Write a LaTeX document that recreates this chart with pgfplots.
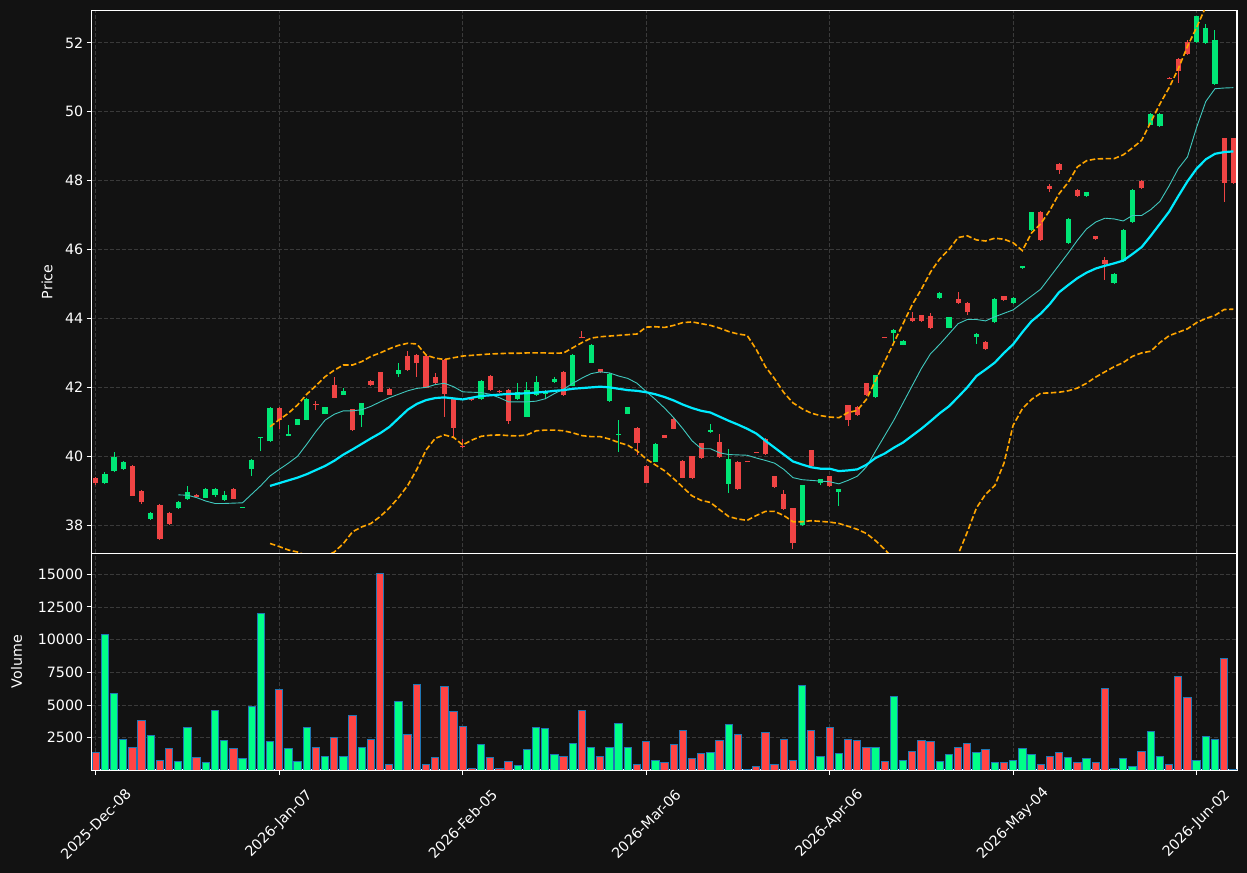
\documentclass[border=0pt]{standalone}
\usepackage{pgfplots}
\pgfplotsset{compat=1.18}
\usepackage{pgfplotstable}
\usepackage{fontspec}
\setmainfont{DejaVu Sans}
\definecolor{bg}{RGB}{18,18,18}
\definecolor{gridc}{RGB}{58,58,58}
\definecolor{cgreen}{RGB}{0,230,118}
\definecolor{cred}{RGB}{239,68,68}
\definecolor{vgreen}{RGB}{0,255,136}
\definecolor{vred}{RGB}{255,68,68}
\definecolor{vedge}{RGB}{31,119,180}
\definecolor{maten}{RGB}{64,200,190}
\definecolor{matwenty}{RGB}{0,235,255}
\definecolor{bband}{RGB}{255,165,0}

% green candles: index open high low close
\pgfplotstableread{
i o h l c
1 39.21 39.53 39.19 39.48
2 39.57 40.12 39.53 39.98
3 39.63 39.85 39.61 39.83
6 38.18 38.37 38.16 38.35
9 38.50 38.69 38.48 38.67
10 38.76 39.14 38.74 38.95
12 38.80 39.07 38.78 39.05
13 38.88 39.07 38.83 39.05
14 38.73 38.99 38.71 38.88
16 38.51 38.54 38.50 38.53
17 39.63 39.91 39.44 39.89
18 40.52 40.57 40.14 40.55
19 40.43 41.42 40.41 41.40
21 40.60 40.90 40.58 40.65
22 40.92 41.09 40.90 41.07
23 41.06 41.68 41.04 41.66
25 41.24 41.44 41.22 41.42
27 41.79 41.97 41.77 41.89
29 41.21 41.56 40.86 41.54
33 42.40 42.72 42.31 42.50
42 41.66 42.20 41.64 42.18
46 41.66 42.12 41.64 41.86
47 41.15 42.15 41.13 41.92
48 41.78 42.33 41.76 42.15
49 41.81 41.92 41.65 41.90
50 42.16 42.31 42.14 42.24
52 42.05 42.96 42.03 42.94
54 42.72 43.25 42.70 43.23
56 41.61 42.41 41.59 42.39
57 40.63 41.05 40.13 40.66
58 41.24 41.44 41.22 41.42
61 39.84 40.39 39.82 40.37
67 40.71 40.95 40.69 40.77
69 39.20 40.22 38.94 39.93
77 38.00 39.18 37.98 39.16
79 39.21 39.35 39.16 39.33
81 38.95 39.06 38.57 39.04
85 41.72 42.37 41.70 42.35
87 43.58 43.70 43.22 43.68
88 43.24 43.38 43.22 43.36
92 44.59 44.76 44.57 44.74
93 43.73 44.05 43.71 44.03
96 43.46 43.58 43.27 43.56
98 43.89 44.59 43.87 44.57
100 44.44 44.62 44.42 44.60
101 45.46 45.53 45.44 45.51
102 46.57 47.10 46.55 47.08
106 46.19 46.91 46.17 46.89
108 47.55 47.68 47.53 47.66
111 45.03 45.32 45.01 45.30
112 45.66 46.60 45.64 46.58
113 46.80 47.76 46.78 47.74
115 49.63 49.97 49.61 49.95
116 49.58 49.97 49.56 49.95
120 52.02 52.79 52.00 52.77
121 52.00 52.56 51.98 52.44
122 50.80 52.36 50.78 52.09
}\cgr

% red candles: index open high low close
\pgfplotstableread{
i o h l c
0 39.37 39.40 39.18 39.21
4 39.72 39.74 38.84 38.86
5 38.99 39.01 38.61 38.68
7 38.59 38.61 37.58 37.60
8 38.35 38.37 38.01 38.03
11 38.88 38.90 38.79 38.81
15 39.05 39.07 38.75 38.77
20 41.40 41.42 40.78 41.04
24 41.53 41.61 41.33 41.49
26 42.07 42.29 41.68 41.70
28 41.36 41.38 40.73 40.75
30 42.18 42.22 42.04 42.07
31 42.44 42.46 41.86 41.88
32 41.95 41.97 41.77 41.79
34 42.91 43.06 42.48 42.50
35 42.94 42.96 42.31 42.70
36 42.91 42.93 41.97 41.99
37 42.30 42.41 42.11 42.13
38 42.79 42.81 41.15 41.81
39 41.66 41.68 40.52 40.83
40 40.30 40.49 40.23 40.26
41 41.71 41.73 41.61 41.63
43 42.33 42.35 41.90 41.92
44 41.89 41.91 41.84 41.86
45 41.92 41.94 40.93 41.02
51 42.45 42.47 41.76 41.78
53 43.47 43.64 43.43 43.45
55 42.52 42.54 42.43 42.45
59 40.82 40.84 40.05 40.39
60 39.72 39.74 39.21 39.23
62 40.61 40.63 40.52 40.54
63 41.08 41.10 40.78 40.80
64 39.86 39.88 39.36 39.38
65 40.00 40.02 39.35 39.37
66 40.38 40.40 39.93 39.95
68 40.41 40.64 39.96 39.98
70 39.83 39.85 39.03 39.05
71 39.86 39.87 39.83 39.84
72 40.12 40.13 40.09 40.10
73 40.51 40.53 40.05 40.07
74 39.42 39.44 39.09 39.11
75 38.90 39.01 38.45 38.47
76 38.49 38.51 37.32 37.49
78 40.17 40.19 39.69 39.71
80 39.42 39.44 39.11 39.13
82 41.48 41.50 40.87 41.04
83 41.43 41.45 41.18 41.20
84 42.12 42.14 41.76 41.78
86 43.45 43.46 43.42 43.43
89 44.00 44.18 43.90 43.92
90 44.09 44.11 43.90 43.92
91 44.06 44.17 43.70 43.72
94 44.58 44.78 44.43 44.45
95 44.45 44.47 44.11 44.18
97 43.32 43.34 43.09 43.11
99 44.64 44.66 44.51 44.53
103 47.10 47.12 46.25 46.27
104 47.86 47.91 47.66 47.77
105 48.49 48.51 48.20 48.30
107 47.74 47.76 47.53 47.55
109 46.38 46.40 46.28 46.30
110 45.71 45.78 45.12 45.59
114 48.00 48.02 47.75 47.79
117 50.99 51.00 50.97 50.98
118 51.54 51.56 50.83 51.17
119 52.04 52.08 51.66 51.68
123 49.23 49.25 47.38 47.93
124 49.23 49.25 47.91 47.93
}\crd

% 10-day moving average
\pgfplotstableread{
i v
9 38.88
10 38.87
11 38.80
12 38.70
13 38.63
14 38.63
15 38.64
16 38.65
17 38.90
18 39.15
19 39.43
20 39.62
21 39.80
22 40.00
23 40.35
24 40.72
25 41.05
26 41.22
27 41.32
28 41.32
29 41.35
30 41.45
31 41.58
32 41.70
33 41.80
34 41.90
35 41.97
36 42.00
37 42.08
38 42.12
39 42.02
40 41.87
41 41.86
42 41.85
43 41.80
44 41.70
45 41.58
46 41.58
47 41.58
48 41.60
49 41.67
50 41.82
51 41.95
52 42.12
53 42.27
54 42.40
55 42.45
56 42.42
57 42.33
58 42.26
59 42.12
60 41.88
61 41.65
62 41.40
63 41.12
64 40.80
65 40.45
66 40.22
67 40.22
68 40.10
69 40.05
70 40.04
71 40.03
72 39.95
73 39.88
74 39.80
75 39.62
76 39.38
77 39.32
78 39.30
79 39.28
80 39.26
81 39.20
82 39.30
83 39.42
84 39.69
85 40.15
86 40.60
87 41.05
88 41.55
89 42.05
90 42.55
91 42.98
92 43.25
93 43.55
94 43.85
95 43.97
96 43.97
97 43.93
98 44.05
99 44.15
100 44.25
101 44.45
102 44.65
103 44.85
104 45.20
105 45.55
106 45.90
107 46.27
108 46.60
109 46.80
110 46.91
111 46.89
112 46.83
113 46.99
114 46.99
115 47.16
116 47.40
117 47.85
118 48.35
119 48.69
120 49.55
121 50.30
122 50.67
123 50.69
124 50.70
}\maten

% 20-day moving average, upper band, lower band
\pgfplotstableread{
i m u lo
19 39.14 40.86 37.47
20 39.22 41.06 37.38
21 39.30 41.25 37.28
22 39.38 41.49 37.22
23 39.48 41.80 37.12
24 39.60 42.05 37.08
25 39.72 42.31 37.10
26 39.87 42.50 37.22
27 40.05 42.65 37.47
28 40.20 42.65 37.81
29 40.36 42.75 37.95
30 40.52 42.90 38.05
31 40.67 43.00 38.25
32 40.85 43.12 38.50
33 41.10 43.22 38.80
34 41.35 43.28 39.15
35 41.52 43.26 39.62
36 41.63 42.94 40.18
37 41.69 42.85 40.52
38 41.71 42.81 40.62
39 41.68 42.86 40.55
40 41.65 42.91 40.33
41 41.70 42.93 40.47
42 41.75 42.95 40.58
43 41.77 42.97 40.61
44 41.79 42.98 40.62
45 41.81 42.99 40.60
46 41.82 42.99 40.59
47 41.83 43.00 40.62
48 41.85 43.00 40.74
49 41.87 43.00 40.76
50 41.90 42.99 40.76
51 41.92 43.00 40.74
52 41.96 43.15 40.68
53 41.98 43.30 40.60
54 42.00 43.43 40.57
55 42.02 43.47 40.57
56 42.00 43.49 40.50
57 41.96 43.51 40.40
58 41.92 43.53 40.32
59 41.90 43.55 40.16
60 41.86 43.75 39.92
61 41.80 43.76 39.75
62 41.72 43.74 39.58
63 41.62 43.80 39.35
64 41.50 43.88 39.10
65 41.40 43.90 38.85
66 41.32 43.85 38.72
67 41.27 43.80 38.66
68 41.15 43.72 38.45
69 41.03 43.62 38.25
70 40.92 43.55 38.18
71 40.80 43.51 38.14
72 40.66 43.10 38.28
73 40.45 42.60 38.40
74 40.25 42.25 38.40
75 40.05 41.85 38.28
76 39.85 41.55 38.10
77 39.76 41.38 38.10
78 39.68 41.25 38.13
79 39.64 41.18 38.11
80 39.64 41.14 38.09
81 39.57 41.12 38.05
82 39.59 41.27 37.97
83 39.62 41.33 37.88
84 39.75 41.65 37.76
85 39.95 42.20 37.55
86 40.08 42.75 37.30
87 40.25 43.30 37.00
88 40.40 43.85 36.70
89 40.60 44.40 36.50
90 40.80 44.85 36.40
91 41.02 45.35 36.50
92 41.25 45.73 36.70
93 41.45 46.00 36.95
94 41.72 46.35 37.15
95 42.00 46.40 37.80
96 42.33 46.28 38.50
97 42.52 46.25 38.90
98 42.72 46.33 39.15
99 43.00 46.30 39.80
100 43.25 46.20 40.90
101 43.60 45.97 41.38
102 43.92 46.48 41.65
103 44.14 46.75 41.83
104 44.42 47.14 41.84
105 44.76 47.62 41.86
106 44.97 47.95 41.90
107 45.17 48.40 41.98
108 45.33 48.58 42.12
109 45.45 48.63 42.30
110 45.53 48.64 42.45
111 45.60 48.64 42.60
112 45.68 48.75 42.72
113 45.87 48.95 42.90
114 46.07 49.17 43.00
115 46.40 49.70 43.05
116 46.75 50.23 43.30
117 47.10 50.70 43.50
118 47.55 51.25 43.60
119 47.98 51.90 43.70
120 48.35 52.45 43.88
121 48.62 53.05 44.00
122 48.78 53.50 44.09
123 48.83 53.90 44.26
124 48.85 54.20 44.27
}\bands

% volume of up days
\pgfplotstableread{
i v
1 10403
2 5879
3 2352
6 2658
9 665
10 3272
12 588
13 4575
14 2275
16 895
17 4908
18 12013
19 2198
21 1661
22 665
23 3272
25 1048
27 1048
29 1738
33 5265
42 1968
46 358
47 1585
48 3272
49 3195
50 1201
52 2045
54 1738
56 1738
57 3578
58 1738
61 741
67 1355
69 3502
77 6492
79 1048
81 1278
85 1738
87 5649
88 741
92 665
93 1201
96 1355
98 588
100 741
101 1661
102 1201
106 971
108 895
111 128
112 895
113 281
115 2965
116 1048
120 741
121 2582
122 2352
}\vgr

% volume of down days
\pgfplotstableread{
i v
0 1355
4 1738
5 3808
7 741
8 1661
11 971
15 1661
20 6186
24 1738
26 2505
28 4192
30 2352
31 15080
32 435
34 2735
35 6569
36 435
37 971
38 6416
39 4499
40 3348
41 128
43 971
44 128
45 665
51 1048
53 4575
55 1048
59 435
60 2198
62 588
63 1968
64 3042
65 895
66 1278
68 2275
70 2735
71 50
72 281
73 2888
74 435
75 2352
76 741
78 3042
80 3272
82 2352
83 2275
84 1738
86 665
89 1431
90 2275
91 2198
94 1738
95 2045
97 1585
99 588
103 435
104 1048
105 1355
107 588
109 588
110 6262
114 1431
117 435
118 7182
119 5572
123 8563
124 77
}\vrd

\pgfplotsset{
  panel/.style={
    scale only axis, width=1145.3bp,
    xmin=-0.44, xmax=124.4,
    axis background/.style={fill=bg},
    axis line style={draw=white, line width=1.1bp},
    grid=major,
    major grid style={draw=gridc, line width=0.9bp, dash pattern=on 4bp off 2bp},
    tick align=outside, major tick length=5bp, tick pos=left,
    tick style={draw=white, line width=1bp},
    tick label style={text=white, font=\fontsize{14.3}{17}\selectfont},
    label style={text=white, font=\fontsize{14.3}{17}\selectfont},
    /pgf/number format/assume math mode=true,
    /pgf/number format/1000 sep={},
    xtick={0,20,40,60,80,100,120},
  },
  wick/.style={only marks, mark size=0pt, mark options={draw=none, fill=none}, forget plot,
    error bars/.cd, y dir=plus, y explicit, error mark=none,
    error bar style={line width=1bp, draw=#1}},
  body/.style={only marks, mark size=0pt, mark options={draw=none, fill=none}, forget plot,
    error bars/.cd, y dir=plus, y explicit, error mark=none,
    error bar style={line width=5.2bp, draw=#1}},
}

\begin{document}
\begin{tikzpicture}
\fill[bg] (0,0) rectangle (1247bp,873bp);

% ---- price panel ----
\begin{axis}[panel,
  at={(91.7bp,319.7bp)}, anchor=south west, height=543bp,
  ymin=37.184, ymax=52.946, ytick={38,40,42,44,46,48,50,52},
  xticklabels={}, xtick style={draw=none},
  ylabel={Price},
  ylabel style={at={(axis description cs:-0.039,0.5)}, anchor=center},
]
\addplot[wick=cgreen] table[x=i, y=l, y error expr=\thisrow{h}-\thisrow{l}] {\cgr};
\addplot[wick=cred] table[x=i, y=l, y error expr=\thisrow{h}-\thisrow{l}] {\crd};
\addplot[body=cgreen] table[x=i, y=o, y error expr=\thisrow{c}-\thisrow{o}] {\cgr};
\addplot[body=cred] table[x=i, y=c, y error expr=\thisrow{o}-\thisrow{c}] {\crd};
\addplot[bband, line width=1.6bp, dash pattern=on 5.5bp off 2.5bp] table[x=i, y=u] {\bands};
\addplot[bband, line width=1.6bp, dash pattern=on 5.5bp off 2.5bp] table[x=i, y=lo] {\bands};
\addplot[maten, line width=0.9bp] table[x=i, y=v] {\maten};
\addplot[matwenty, line width=2.2bp] table[x=i, y=m] {\bands};
\end{axis}

% ---- volume panel ----
\begin{axis}[panel,
  at={(91.7bp,103bp)}, anchor=south west, height=216.7bp,
  ymin=30, ymax=16607, ytick={2500,5000,7500,10000,12500,15000},
  scaled y ticks=false,
  xticklabels={2025-Dec-08,2026-Jan-07,2026-Feb-05,2026-Mar-06,2026-Apr-06,2026-May-04,2026-Jun-02},
  xticklabel style={yshift=-49bp, rotate=45, anchor=center},
  ylabel={Volume},
  ylabel style={at={(axis description cs:-0.0655,0.5)}, anchor=center},
]
\addplot[ybar, bar width=0.8, bar shift=0pt, fill=vgreen, draw=vedge, line width=1bp] table[x=i, y=v] {\vgr};
\addplot[ybar, bar width=0.8, bar shift=0pt, fill=vred, draw=vedge, line width=1bp] table[x=i, y=v] {\vrd};
\end{axis}

\pgfresetboundingbox
\path[use as bounding box] (0,0) rectangle (1247bp,873bp);
\end{tikzpicture}
\end{document}
